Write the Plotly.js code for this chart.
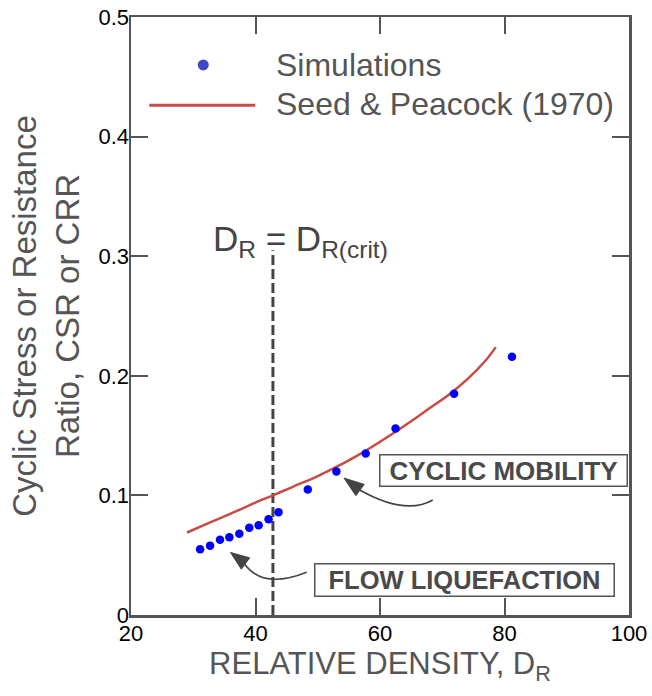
<!DOCTYPE html>
<html>
<head>
<meta charset="utf-8">
<script src="https://cdn.plot.ly/plotly-3.0.1.min.js"></script>
<style>html,body{margin:0;padding:0;background:#fff;}#chart{width:652px;height:696px;}</style>
</head>
<body>
<div id="chart"></div>
<script>
// Simulation points (relative density %, CSR)
const simDR = [31.1, 32.7, 34.3, 35.8, 37.4, 39.0, 40.5, 42.1, 43.7, 48.4, 53.0, 57.7, 62.5, 71.9, 81.2];
const simCSR = [0.055, 0.058, 0.063, 0.065, 0.068, 0.073, 0.075, 0.080, 0.086, 0.105, 0.120, 0.135, 0.156, 0.185, 0.216];

// Seed & Peacock (1970) curve
const seedDR = [29, 33, 37, 40, 43, 46, 50, 53, 56, 59, 62, 65, 68, 71, 74, 77, 78.6];
const seedCRR = [0.069, 0.078, 0.087, 0.094, 0.1005, 0.1072, 0.1162, 0.1238, 0.1322, 0.1415, 0.1515, 0.162, 0.173, 0.184, 0.197, 0.213, 0.224];

// Critical relative density line
const critDR = [42.8, 42.8];
const critCSR = [0, 0.305];

// Axis ticks
const xTicks = [20, 40, 60, 80, 100];
const yTicks = [0, 0.1, 0.2, 0.3, 0.4, 0.5];

const FONT = '"Liberation Sans", Arial, Helvetica, sans-serif';
const GRAY = '#555555';

// plot-area geometry (used only to place decorative arrows)
const M = {l: 131, r: 23, t: 17, b: 81};
const PW = 652 - M.l - M.r, PH = 696 - M.t - M.b;
function P(px, py) {
  const x = 20 + (px - M.l) * 80 / PW;
  const y = (M.t + PH - py) * 0.5 / PH;
  return x.toFixed(3) + ',' + y.toFixed(4);
}
function head(tx, ty, bx, by, hw) {
  const dx = tx - bx, dy = ty - by, L = Math.hypot(dx, dy);
  const nx = -dy / L, ny = dx / L;
  return 'M ' + P(tx, ty) + ' L ' + P(bx + nx * hw, by + ny * hw) + ' L ' + P(bx - nx * hw, by - ny * hw) + ' Z';
}

const traces = [
  {x: critDR, y: critCSR, mode: 'lines', line: {color: '#444444', width: 3, dash: '10px,4px'}, showlegend: false, hoverinfo: 'skip'},
  {x: seedDR, y: seedCRR, mode: 'lines', name: 'Seed & Peacock (1970)', line: {color: '#c84b45', width: 2.5, shape: 'spline'}, showlegend: false},
  {x: simDR, y: simCSR, mode: 'markers', name: 'Simulations', marker: {color: '#0000ff', size: 8.5}, showlegend: false}
];

const axisCommon = {
  showgrid: false, zeroline: false, showline: true, mirror: 'ticks',
  linecolor: GRAY, linewidth: 2.5, ticks: 'inside', ticklen: 17, tickwidth: 2, tickcolor: GRAY,
  tickfont: {family: FONT, size: 22, color: '#000'}
};

const layout = {
  width: 652, height: 696,
  margin: M,
  paper_bgcolor: '#fff', plot_bgcolor: '#fff',
  showlegend: false,
  xaxis: Object.assign({}, axisCommon, {
    range: [20, 100], tickvals: xTicks, ticktext: xTicks.map(String), ticklabelstandoff: -3,
    title: {text: 'RELATIVE DENSITY, D<sub>R</sub>', font: {family: FONT, size: 31, color: GRAY}, standoff: 8}
  }),
  yaxis: Object.assign({}, axisCommon, {
    range: [0, 0.5], tickvals: yTicks, ticktext: yTicks.map(v => v === 0 ? '0' : v.toFixed(1)), ticklabelstandoff: -5,
    title: {text: 'Cyclic Stress or Resistance<br>Ratio, CSR or CRR', font: {family: FONT, size: 33, color: GRAY}, standoff: 9}
  }),
  shapes: [
    // legend line and dot
    {type: 'line', xref: 'x', yref: 'y', x0: 22.94, x1: 39.97, y0: 0.4262, y1: 0.4262, line: {color: '#c84b45', width: 3}},
    {type: 'circle', xref: 'x', yref: 'y', xsizemode: 'pixel', ysizemode: 'pixel', xanchor: 31.61, yanchor: 0.4599,
     x0: -5.5, x1: 5.5, y0: -5.5, y1: 5.5, fillcolor: '#3f48c8', line: {width: 0}},
    // curved arrows
    {type: 'path', xref: 'x', yref: 'y', path: 'M ' + P(432.7, 500) + ' Q ' + P(405, 516) + ' ' + P(358, 489), line: {color: '#444', width: 1.6}},
    {type: 'path', xref: 'x', yref: 'y', path: head(344, 478, 360, 490, 7), fillcolor: '#444', line: {color: '#444', width: 1}},
    {type: 'path', xref: 'x', yref: 'y', path: 'M ' + P(306.7, 572.3) + ' Q ' + P(262, 590) + ' ' + P(244, 563), line: {color: '#444', width: 1.6}},
    {type: 'path', xref: 'x', yref: 'y', path: head(230.5, 552.5, 245.5, 563.5, 7), fillcolor: '#444', line: {color: '#444', width: 1}}
  ],
  annotations: [
    {xref: 'x', yref: 'y', x: 43.02, y: 0.4599, xanchor: 'left', yanchor: 'middle', showarrow: false,
     text: 'Simulations', font: {family: FONT, size: 32, color: GRAY}},
    {xref: 'x', yref: 'y', x: 43.02, y: 0.4273, xanchor: 'left', yanchor: 'middle', showarrow: false,
     text: 'Seed &amp; Peacock (1970)', font: {family: FONT, size: 32, color: GRAY}},
    {xref: 'x', yref: 'y', x: 47.3, y: 0.313, xanchor: 'center', yanchor: 'middle', showarrow: false,
     text: 'D<sub>R</sub> = D<sub>R(crit)</sub>', font: {family: FONT, size: 35, color: '#444'}},
    {xref: 'x', yref: 'y', x: 79.81, y: 0.1207, xanchor: 'center', yanchor: 'middle', showarrow: false,
     text: '<b>CYCLIC MOBILITY</b>', font: {family: FONT, size: 26, color: '#4a4a4a'},
     bordercolor: GRAY, borderwidth: 1.5, borderpad: 1, width: 244, height: 28, bgcolor: '#fff'},
    {xref: 'x', yref: 'y', x: 73.64, y: 0.0293, xanchor: 'center', yanchor: 'middle', showarrow: false,
     text: '<b>FLOW LIQUEFACTION</b>', font: {family: FONT, size: 25.5, color: '#4a4a4a'},
     bordercolor: GRAY, borderwidth: 1.5, borderpad: 1, width: 296, height: 29, bgcolor: '#fff'}
  ]
};

Plotly.newPlot('chart', traces, layout, {staticPlot: true, displayModeBar: false});
</script>
</body>
</html>
